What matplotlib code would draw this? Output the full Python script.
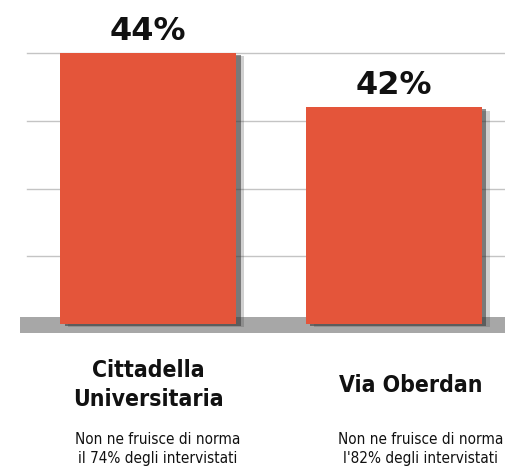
import numpy as np
import matplotlib
matplotlib.use("Agg")
import matplotlib.pyplot as plt
import matplotlib.patheffects as pe
from matplotlib.transforms import blended_transform_factory

# --------------------------------------------------------------------------
# Data
# --------------------------------------------------------------------------
categories = ["Cittadella\nUniversitaria", "Via Oberdan"]
values = [44, 42]
notes = ["Non ne fruisce di norma\nil 74% degli intervistati",
         "Non ne fruisce di norma\nl'82% degli intervistati"]
grid_levels = [36.5, 39, 41.5, 44]
BASE = 34  # truncated baseline of the infographic

BAR_COLOR = "#E4553A"
BAND_COLOR = "#A7A7A7"
GRID_COLOR = "#C4C4C4"
TEXT_COLOR = "#111111"

W, H = 505, 472
fig = plt.figure(figsize=(W / 100, H / 100), dpi=100)
ax = fig.add_axes([0, 139 / H, 1, 333 / H])
ax.set_axis_off()

x = np.arange(len(values))
ax.set_xlim(-0.603, 1.454)
ax.set_ylim(33.668, 45.956)

# light horizontal guide lines
for g in grid_levels:
    ax.axhline(g, xmin=27 / W, xmax=1, color=GRID_COLOR, lw=1.0, zorder=1)

# grey floor band
ax.axhspan(33.668, 34.26, xmin=20 / W, xmax=1, color=BAND_COLOR, lw=0, zorder=2)

bars = ax.bar(x, np.array(values) - BASE, bottom=BASE, width=0.717,
              color=BAR_COLOR, zorder=3)
for b in bars:
    b.set_path_effects([
        pe.SimplePatchShadow(offset=(6, -2.5), shadow_rgbFace="#444444", alpha=0.25),
        pe.SimplePatchShadow(offset=(3.5, -1.5), shadow_rgbFace="#333333", alpha=0.55),
        pe.Normal(),
    ])

# value labels
for xi, v in zip(x, values):
    ax.annotate(f"{v}%", (xi, v), xytext=(0, 9.5), textcoords="offset points",
                ha="center", va="baseline", fontsize=23, fontweight="heavy",
                family="DejaVu Sans", color=TEXT_COLOR)

# category names and notes below the floor
tr = blended_transform_factory(ax.transData, fig.transFigure)
label_dx = [0.0, 0.07]
for xi, dx, cat, note in zip(x, label_dx, categories, notes):
    ax.text(xi + dx, 1 - 385 / H, cat, transform=tr, ha="center", va="center",
            fontsize=16.5, fontweight="bold", family="DejaVu Sans",
            fontstretch="condensed", linespacing=1.3, color=TEXT_COLOR)
    ax.text(xi + dx + 0.04, 1 - 449 / H, note, transform=tr, ha="center", va="center",
            fontsize=11, family="DejaVu Sans", fontstretch="condensed",
            linespacing=1.3, color=TEXT_COLOR)

fig.savefig("out.png", dpi=100)
